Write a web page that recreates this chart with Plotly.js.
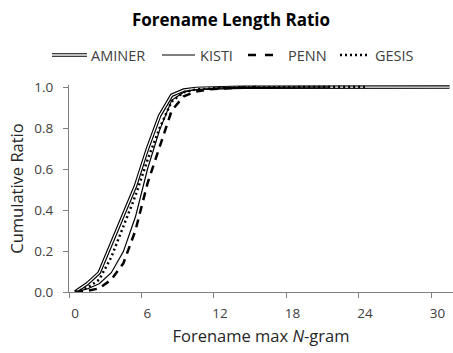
<!DOCTYPE html>
<html>
<head>
<meta charset="utf-8">
<script src="https://cdn.plot.ly/plotly-3.0.1.min.js"></script>
<style>html,body{margin:0;padding:0;background:#fff;}#chart{width:453px;height:353px;}</style>
</head>
<body>
<div id="chart"></div>
<script>
// ---- data ----
const seriesNames = ["AMINER", "KISTI", "PENN", "GESIS"];
const aminer = [0, 0.04, 0.094, 0.237, 0.376, 0.517, 0.70, 0.86, 0.96, 0.985, 0.993, 0.996, 0.997, 0.998, 0.999, 0.999, 1.0,
                1.0, 1.0, 1.0, 1.0, 1.0, 1.0, 1.0, 1.0, 1.0, 1.0, 1.0, 1.0, 1.0, 1.0, 1.0];
const kisti  = [0, 0.015, 0.04, 0.094, 0.197, 0.367, 0.60, 0.79, 0.935, 0.975, 0.988, 0.993, 0.996, 0.997, 0.998, 0.999, 0.999,
                1.0, 1.0, 1.0, 1.0, 1.0];
const penn   = [0, 0.005, 0.018, 0.06, 0.14, 0.30, 0.53, 0.71, 0.885, 0.955, 0.978, 0.988, 0.993, 0.996, 0.998, 1.0];
const gesis  = [0, 0.02, 0.06, 0.17, 0.32, 0.47, 0.645, 0.80, 0.93, 0.975, 0.988, 0.993, 0.996, 0.997, 0.998, 0.999, 0.999,
                1.0, 1.0, 1.0, 1.0, 1.0, 1.0, 1.0, 1.0];
const xTickLabels = ["0", "6", "12", "18", "24", "30"];
const yTickValues = [0, 0.2, 0.4, 0.6, 0.8, 1.0];

// ---- layout helpers ----
const W = 453, H = 353;
const M = {l: 69, r: 0, t: 85, b: 61};
const pw = W - M.l - M.r, ph = H - M.t - M.b;
const px = v => (v - M.l) / pw;        // pixel x -> paper
const py = v => (H - M.b - v) / ph;    // pixel y -> paper
const idx = arr => arr.map((_, i) => i);

const FONT = "Open Sans, Noto Sans, sans-serif";
const GREY = "#404040";

const traces = [
  {x: idx(aminer), y: aminer, mode: "lines", line: {color: "#000", width: 3.6}, showlegend: false, hoverinfo: "skip"},
  {x: idx(aminer), y: aminer, mode: "lines", line: {color: "#fff", width: 1.3}, showlegend: false, hoverinfo: "skip"},
  {x: idx(kisti), y: kisti, mode: "lines", line: {color: "#000", width: 1.2}, showlegend: false},
  {x: idx(penn), y: penn, mode: "lines", line: {color: "#000", width: 2.5, dash: "8px,6px"}, showlegend: false},
  {x: idx(gesis), y: gesis, mode: "lines", line: {color: "#000", width: 2.5, dash: "2px,3px"}, showlegend: false}
];

// custom legend
const legY = py(55);
const legItems = [
  {name: seriesNames[0], x0: 52, x1: 87, tx: 89},
  {name: seriesNames[1], x0: 162, x1: 195, tx: 198},
  {name: seriesNames[2], x0: 248, x1: 275, tx: 286},
  {name: seriesNames[3], x0: 340, x1: 370, tx: 373}
];
const shapes = [];
const lineShape = (it, line) => ({type: "line", xref: "paper", yref: "paper",
  x0: px(it.x0), x1: px(it.x1), y0: legY, y1: legY, line: line});
shapes.push(lineShape(legItems[0], {color: "#000", width: 3.6}));
shapes.push(lineShape(legItems[0], {color: "#fff", width: 1.3}));
shapes.push(lineShape(legItems[1], {color: "#000", width: 1.2}));
shapes.push(lineShape(legItems[2], {color: "#000", width: 2.6, dash: "8px,9px"}));
shapes.push(lineShape(legItems[3], {color: "#000", width: 2.6, dash: "2px,3px"}));

const annotations = legItems.map(it => ({
  xref: "paper", yref: "paper", x: px(it.tx), y: legY, xanchor: "left", yanchor: "middle",
  text: it.name, showarrow: false, font: {family: FONT, size: 14.5, color: GREY}
}));

const layout = {
  width: W, height: H,
  margin: M,
  paper_bgcolor: "#fff", plot_bgcolor: "#fff",
  font: {family: FONT, color: GREY},
  title: {text: "<b>Forename Length Ratio</b>", font: {family: FONT, size: 17, color: "#000"},
          xref: "container", yref: "container", x: 231 / W, y: 1 - 20 / H, xanchor: "center", yanchor: "middle"},
  xaxis: {
    range: [-0.5, -0.5 + pw / 12.08],
    tickvals: xTickLabels.map(t => Number(t) - 0.5),
    ticktext: xTickLabels,
    ticklabelshift: 6,
    ticklabelstandoff: 4,
    ticks: "outside", ticklen: 5, tickcolor: "#808080", tickwidth: 1,
    showline: true, linecolor: "#808080", linewidth: 1,
    showgrid: false, zeroline: false,
    tickfont: {family: FONT, size: 13.5, color: GREY},
    title: {text: "Forename max <i>N</i>-gram", font: {family: FONT, size: 16.5, color: "#262626"}, standoff: 9}
  },
  yaxis: {
    range: [0, 1.01],
    tickvals: yTickValues,
    tickformat: ".1f",
    ticks: "outside", ticklen: 5, tickcolor: "#808080", tickwidth: 1,
    ticklabelstandoff: 7,
    showline: true, linecolor: "#808080", linewidth: 1,
    showgrid: false, zeroline: false,
    tickfont: {family: FONT, size: 13.5, color: GREY},
    title: {text: "Cumulative Ratio", font: {family: FONT, size: 16.5, color: "#262626"}, standoff: 6}
  },
  shapes: shapes,
  annotations: annotations,
  showlegend: false
};

Plotly.newPlot("chart", traces, layout, {staticPlot: true, displayModeBar: false});
</script>
</body>
</html>
